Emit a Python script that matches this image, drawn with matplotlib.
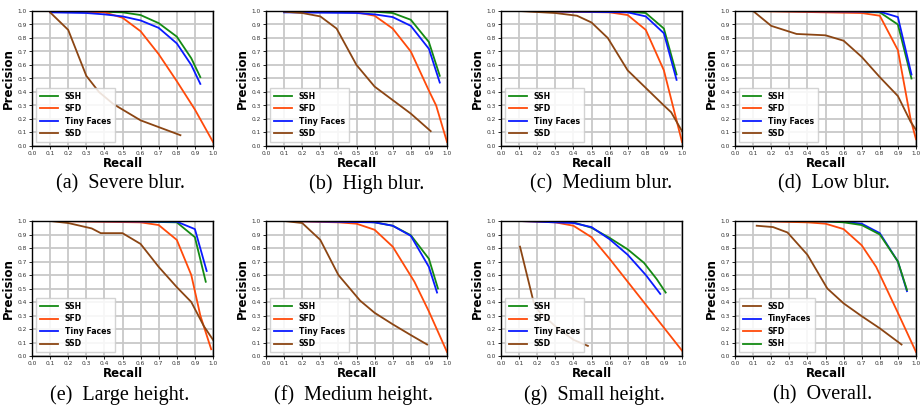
import matplotlib
matplotlib.use('Agg')
import matplotlib.pyplot as plt

# --- data: (recall, precision) per method per panel ---
captions = ['(a)  Severe blur.', '(b)  High blur.', '(c)  Medium blur.', '(d)  Low blur.',
            '(e)  Large height.', '(f)  Medium height.', '(g)  Small height.', '(h)  Overall.']

ssh_r = [
    [0.1, 0.3, 0.5, 0.6, 0.7, 0.8, 0.88, 0.93],
    [0.1, 0.5, 0.6, 0.7, 0.8, 0.9, 0.96],
    [0.08, 0.5, 0.7, 0.8, 0.9, 0.97],
    [0.1, 0.5, 0.8, 0.9, 0.975],
    [0.1, 0.5, 0.8, 0.9, 0.96],
    [0.1, 0.5, 0.6, 0.7, 0.8, 0.9, 0.95],
    [0.1, 0.3, 0.4, 0.5, 0.6, 0.7, 0.79, 0.86, 0.91],
    [0.1, 0.5, 0.6, 0.7, 0.8, 0.9, 0.95],
]
ssh_p = [
    [1.0, 0.998, 0.99, 0.97, 0.91, 0.81, 0.65, 0.51],
    [1.0, 0.998, 0.995, 0.985, 0.935, 0.77, 0.52],
    [1.0, 0.998, 0.995, 0.985, 0.87, 0.53],
    [1.0, 0.998, 0.99, 0.90, 0.50],
    [1.0, 0.998, 0.99, 0.88, 0.55],
    [1.0, 0.998, 0.99, 0.965, 0.895, 0.72, 0.50],
    [1.0, 0.998, 0.99, 0.95, 0.875, 0.79, 0.69, 0.57, 0.47],
    [1.0, 0.998, 0.99, 0.97, 0.90, 0.70, 0.49],
]

sfd_r = [
    [0.1, 0.4, 0.5, 0.6, 0.7, 0.8, 0.9, 1.0],
    [0.1, 0.5, 0.6, 0.7, 0.8, 0.9, 0.94, 1.0],
    [0.1, 0.6, 0.7, 0.8, 0.9, 1.0],
    [0.1, 0.7, 0.8, 0.9, 0.97, 1.0],
    [0.1, 0.6, 0.7, 0.8, 0.88, 0.93, 0.99],
    [0.1, 0.4, 0.5, 0.6, 0.7, 0.82, 0.9, 1.0],
    [0.1, 0.3, 0.4, 0.5, 0.6, 0.7, 0.8, 0.9, 1.0],
    [0.1, 0.4, 0.5, 0.6, 0.7, 0.78, 0.9, 1.0],
]
sfd_p = [
    [1.0, 0.99, 0.95, 0.85, 0.68, 0.48, 0.27, 0.03],
    [1.0, 0.99, 0.965, 0.87, 0.70, 0.41, 0.30, 0.03],
    [1.0, 0.99, 0.97, 0.86, 0.56, 0.03],
    [1.0, 0.985, 0.965, 0.71, 0.20, 0.05],
    [1.0, 0.99, 0.97, 0.86, 0.60, 0.30, 0.05],
    [1.0, 0.99, 0.98, 0.935, 0.81, 0.55, 0.33, 0.03],
    [1.0, 0.99, 0.965, 0.88, 0.72, 0.55, 0.38, 0.21, 0.04],
    [1.0, 0.99, 0.98, 0.94, 0.82, 0.66, 0.32, 0.03],
]

tf_r = [
    [0.1, 0.3, 0.4, 0.5, 0.6, 0.7, 0.8, 0.88, 0.93],
    [0.1, 0.5, 0.6, 0.7, 0.8, 0.9, 0.96],
    [0.1, 0.7, 0.8, 0.9, 0.97],
    [0.1, 0.8, 0.9, 0.975],
    [0.1, 0.8, 0.9, 0.965],
    [0.1, 0.6, 0.7, 0.8, 0.9, 0.945],
    [0.1, 0.4, 0.5, 0.6, 0.7, 0.8, 0.88],
    [0.1, 0.6, 0.7, 0.8, 0.9, 0.95],
]
tf_p = [
    [0.99, 0.985, 0.975, 0.96, 0.93, 0.875, 0.76, 0.60, 0.46],
    [0.99, 0.985, 0.975, 0.955, 0.89, 0.72, 0.47],
    [1.0, 0.99, 0.96, 0.835, 0.49],
    [1.0, 0.995, 0.955, 0.53],
    [1.0, 0.995, 0.94, 0.63],
    [1.0, 0.99, 0.965, 0.89, 0.66, 0.47],
    [1.0, 0.985, 0.955, 0.865, 0.75, 0.60, 0.46],
    [1.0, 0.995, 0.98, 0.91, 0.70, 0.48],
]

ssd_r = [
    [0.1, 0.2, 0.3, 0.37, 0.45, 0.6, 0.7, 0.82],
    [0.1, 0.2, 0.3, 0.39, 0.5, 0.6, 0.7, 0.8, 0.91],
    [0.1, 0.3, 0.42, 0.5, 0.59, 0.7, 0.8, 0.9, 0.94, 1.0],
    [0.1, 0.2, 0.34, 0.5, 0.6, 0.7, 0.8, 0.9, 0.97, 1.0],
    [0.1, 0.2, 0.33, 0.38, 0.5, 0.6, 0.7, 0.8, 0.88, 0.95, 1.0],
    [0.1, 0.2, 0.3, 0.4, 0.52, 0.6, 0.7, 0.8, 0.89],
    [0.105, 0.18, 0.21, 0.3, 0.4, 0.48],
    [0.12, 0.21, 0.29, 0.4, 0.51, 0.6, 0.7, 0.8, 0.92],
]
ssd_p = [
    [0.99, 0.86, 0.52, 0.40, 0.31, 0.19, 0.14, 0.08],
    [0.995, 0.985, 0.96, 0.87, 0.60, 0.44, 0.34, 0.24, 0.11],
    [1.0, 0.985, 0.965, 0.915, 0.80, 0.56, 0.43, 0.30, 0.25, 0.11],
    [1.0, 0.89, 0.83, 0.82, 0.78, 0.66, 0.51, 0.37, 0.18, 0.12],
    [1.0, 0.985, 0.945, 0.91, 0.91, 0.83, 0.66, 0.51, 0.40, 0.22, 0.12],
    [1.0, 0.985, 0.86, 0.60, 0.41, 0.32, 0.235, 0.155, 0.085],
    [0.81, 0.40, 0.33, 0.22, 0.12, 0.075],
    [0.965, 0.955, 0.915, 0.75, 0.50, 0.39, 0.295, 0.205, 0.085],
]

GREEN = '#138a13'
ORANGE = '#ff4a0a'
BLUE = '#0a1aff'
BROWN = '#8b4513'

# layout in pixels
W, H = 921, 411
lefts = [32, 266, 501, 735]
tops = [11, 221]
AW, AH = 181, 135
cap_x = [120, 367, 601, 834, 120, 353, 594, 823]
cap_y = [184, 395]

fig = plt.figure(figsize=(W / 100, H / 100), dpi=100)
ticks = [i / 10 for i in range(11)]

for k in range(8):
    row, col = divmod(k, 4)
    ax = fig.add_axes([lefts[col] / W, 1 - (tops[row] + AH) / H, AW / W, AH / H])
    lw = 1.3
    if k < 7:
        ax.plot(ssh_r[k], ssh_p[k], color=GREEN, lw=lw, label='SSH')
        ax.plot(sfd_r[k], sfd_p[k], color=ORANGE, lw=lw, label='SFD')
        ax.plot(tf_r[k], tf_p[k], color=BLUE, lw=lw, label='Tiny Faces')
        ax.plot(ssd_r[k], ssd_p[k], color=BROWN, lw=lw, label='SSD')
    else:
        ax.plot(ssd_r[k], ssd_p[k], color=BROWN, lw=lw, label='SSD')
        ax.plot(tf_r[k], tf_p[k], color=BLUE, lw=lw, label='TinyFaces')
        ax.plot(sfd_r[k], sfd_p[k], color=ORANGE, lw=lw, label='SFD')
        ax.plot(ssh_r[k], ssh_p[k], color=GREEN, lw=lw, label='SSH')
    ax.set_xlim(0, 1)
    ax.set_ylim(0, 1)
    ax.set_xticks(ticks)
    ax.set_yticks(ticks)
    ax.set_xticklabels([f'{t:.1f}' for t in ticks])
    ax.set_yticklabels([f'{t:.1f}' for t in ticks])
    ax.tick_params(labelsize=4.2, length=2, width=0.6, pad=1.5, labelcolor='#333333')
    ax.grid(True, color='#c8c8c8', lw=1.3)
    ax.set_axisbelow(True)
    for s in ax.spines.values():
        s.set_linewidth(1.0)
    ax.set_xlabel('Recall', fontsize=8.5, fontweight='bold', labelpad=1)
    ax.set_ylabel('Precision', fontsize=8.5, fontweight='bold', labelpad=2)
    leg = ax.legend(loc='lower left', prop={'size': 5.6, 'weight': 'bold'},
                    handlelength=2.4, borderpad=0.5, labelspacing=0.45,
                    fancybox=False, framealpha=0.85, edgecolor='#cccccc')
    fig.text(cap_x[k] / W, 1 - cap_y[row] / H, captions[k], ha='center', va='center',
             family='Liberation Serif', fontsize=14.5)

fig.savefig('out.png', dpi=100)
